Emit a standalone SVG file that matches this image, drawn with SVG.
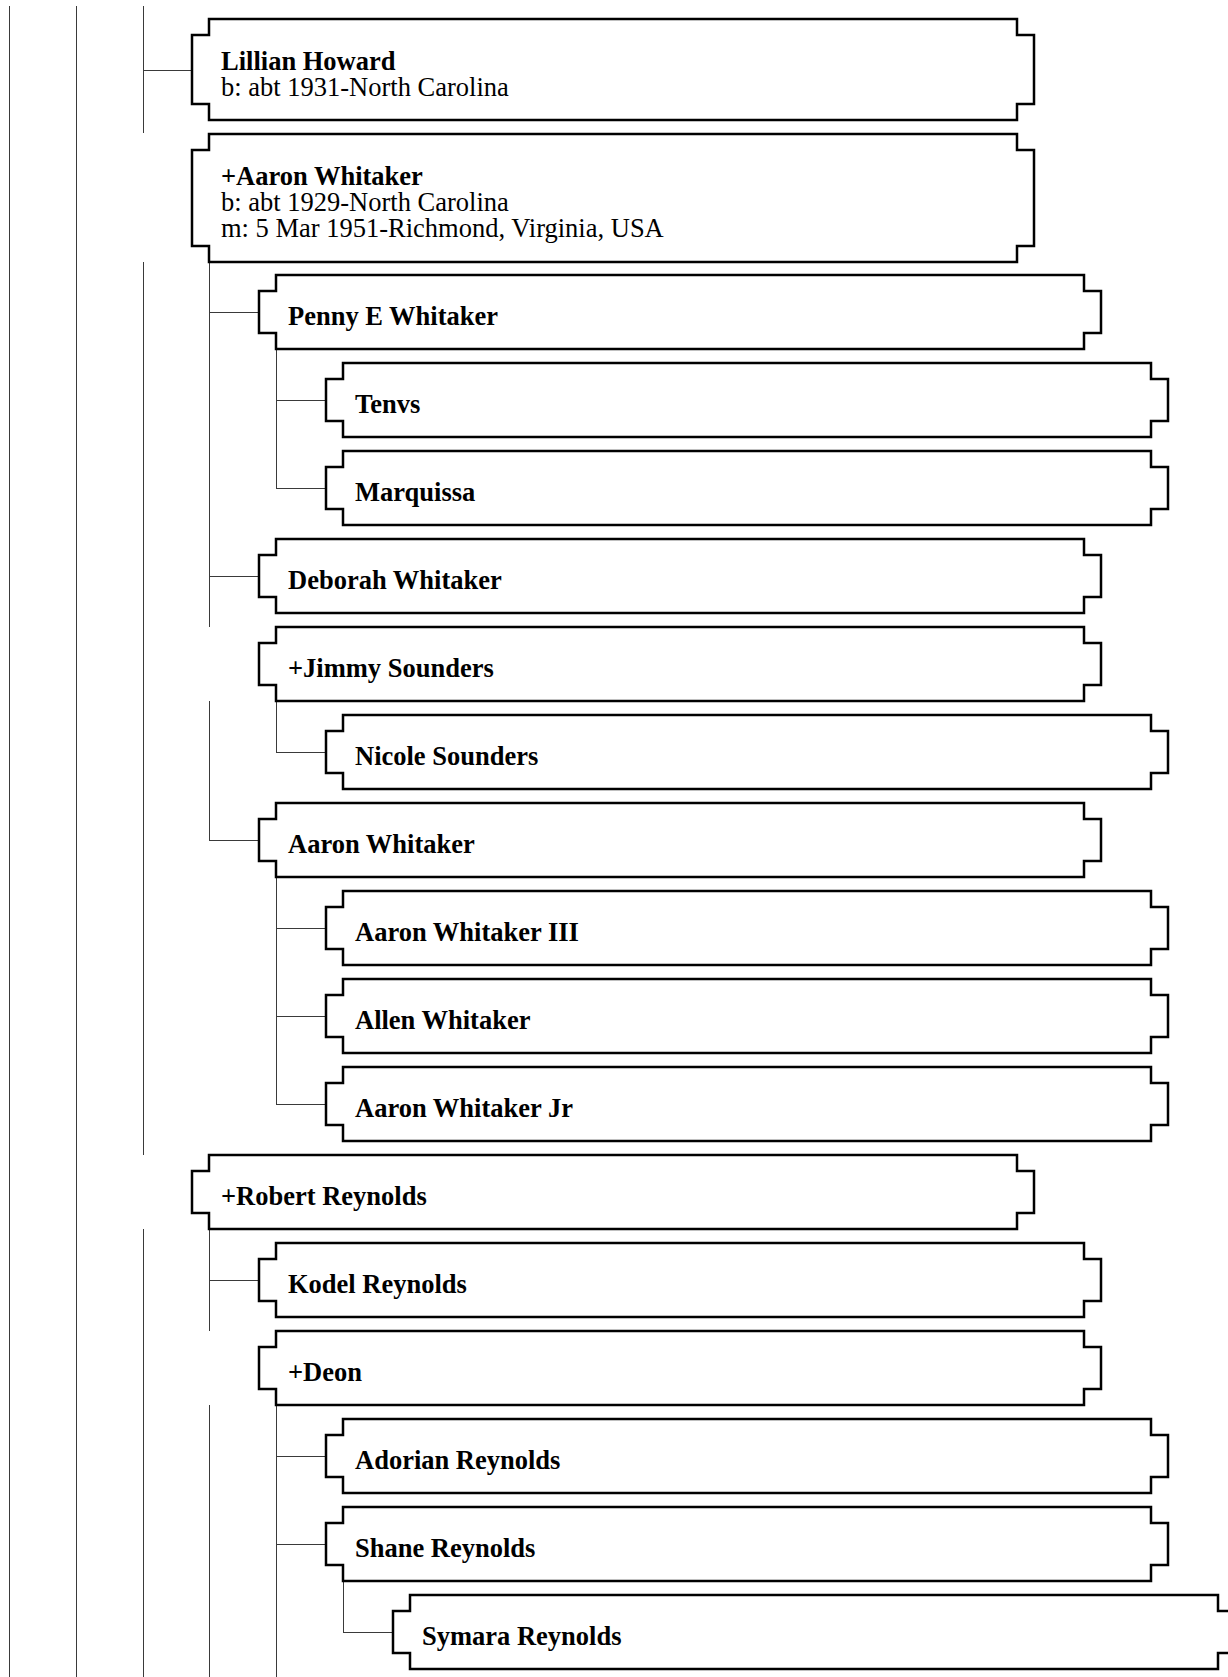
<svg xmlns="http://www.w3.org/2000/svg" width="1228" height="1677" viewBox="0 0 1228 1677">
<style>
.box{fill:#fff;stroke:#000;stroke-width:2.5;stroke-linejoin:miter}
.ln{stroke:#3a3a3a;stroke-width:1;fill:none}
.n{font-family:"Liberation Serif","Times New Roman",serif;font-size:26.5px;font-weight:bold;fill:#000}
.d{font-family:"Liberation Serif","Times New Roman",serif;font-size:26.5px;fill:#000}
</style>
<rect width="1228" height="1677" fill="#fff"/>
<g id="connectors">
<path class="ln" d="M9.5,6V1677M76.5,6V1677M143.5,6V133M143.5,262V1155M143.5,1229V1677M209.5,262V627M209.5,701V840M209.5,1229V1331M209.5,1405V1677M276.5,349V488M276.5,701V752M276.5,877V1104M276.5,1405V1677M343.5,1581V1632"/>
<path class="ln" d="M143,70.5H192M209,312.5H259M276,400.5H326M276,488.5H326M209,576.5H259M276,752.5H326M209,840.5H259M276,928.5H326M276,1016.5H326M276,1104.5H326M209,1280.5H259M276,1456.5H326M276,1544.5H326M343,1632.5H393"/>
</g>
<g id="n1"><path class="box" d="M209,19H1017V35H1034V104H1017V120H209V104H192V35H209Z"/><text class="n" x="221" y="70">Lillian Howard</text><text class="d" x="221" y="96">b: abt 1931-North Carolina</text></g>
<g id="n2"><path class="box" d="M209,134H1017V150H1034V246H1017V262H209V246H192V150H209Z"/><text class="n" x="221" y="185">+Aaron Whitaker</text><text class="d" x="221" y="211">b: abt 1929-North Carolina</text><text class="d" x="221" y="237">m: 5 Mar 1951-Richmond, Virginia, USA</text></g>
<g id="n3"><path class="box" d="M276,275H1084V291H1101V333H1084V349H276V333H259V291H276Z"/><text class="n" x="288" y="325">Penny E Whitaker</text></g>
<g id="n4"><path class="box" d="M343,363H1151V379H1168V421H1151V437H343V421H326V379H343Z"/><text class="n" x="355" y="413">Tenvs</text></g>
<g id="n5"><path class="box" d="M343,451H1151V467H1168V509H1151V525H343V509H326V467H343Z"/><text class="n" x="355" y="501">Marquissa</text></g>
<g id="n6"><path class="box" d="M276,539H1084V555H1101V597H1084V613H276V597H259V555H276Z"/><text class="n" x="288" y="589">Deborah Whitaker</text></g>
<g id="n7"><path class="box" d="M276,627H1084V643H1101V685H1084V701H276V685H259V643H276Z"/><text class="n" x="288" y="677">+Jimmy Sounders</text></g>
<g id="n8"><path class="box" d="M343,715H1151V731H1168V773H1151V789H343V773H326V731H343Z"/><text class="n" x="355" y="765">Nicole Sounders</text></g>
<g id="n9"><path class="box" d="M276,803H1084V819H1101V861H1084V877H276V861H259V819H276Z"/><text class="n" x="288" y="853">Aaron Whitaker</text></g>
<g id="n10"><path class="box" d="M343,891H1151V907H1168V949H1151V965H343V949H326V907H343Z"/><text class="n" x="355" y="941">Aaron Whitaker III</text></g>
<g id="n11"><path class="box" d="M343,979H1151V995H1168V1037H1151V1053H343V1037H326V995H343Z"/><text class="n" x="355" y="1029">Allen Whitaker</text></g>
<g id="n12"><path class="box" d="M343,1067H1151V1083H1168V1125H1151V1141H343V1125H326V1083H343Z"/><text class="n" x="355" y="1117">Aaron Whitaker Jr</text></g>
<g id="n13"><path class="box" d="M209,1155H1017V1171H1034V1213H1017V1229H209V1213H192V1171H209Z"/><text class="n" x="221" y="1205">+Robert Reynolds</text></g>
<g id="n14"><path class="box" d="M276,1243H1084V1259H1101V1301H1084V1317H276V1301H259V1259H276Z"/><text class="n" x="288" y="1293">Kodel Reynolds</text></g>
<g id="n15"><path class="box" d="M276,1331H1084V1347H1101V1389H1084V1405H276V1389H259V1347H276Z"/><text class="n" x="288" y="1381">+Deon</text></g>
<g id="n16"><path class="box" d="M343,1419H1151V1435H1168V1477H1151V1493H343V1477H326V1435H343Z"/><text class="n" x="355" y="1469">Adorian Reynolds</text></g>
<g id="n17"><path class="box" d="M343,1507H1151V1523H1168V1565H1151V1581H343V1565H326V1523H343Z"/><text class="n" x="355" y="1557">Shane Reynolds</text></g>
<g id="n18"><path class="box" d="M410,1595H1218V1611H1235V1653H1218V1669H410V1653H393V1611H410Z"/><text class="n" x="422" y="1645">Symara Reynolds</text></g>
</svg>
